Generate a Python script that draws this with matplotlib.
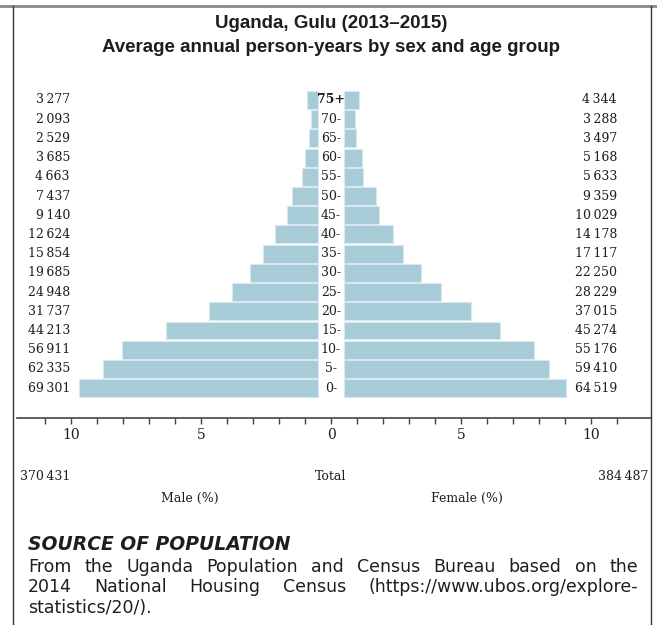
import matplotlib
matplotlib.use("Agg")
import matplotlib.pyplot as plt
from matplotlib.lines import Line2D
from matplotlib.ticker import FixedLocator, FuncFormatter
import numpy as np

# age groups, bottom to top
ages = ['0-', '5-', '10-', '15-', '20-', '25-', '30-', '35-', '40-',
        '45-', '50-', '55-', '60-', '65-', '70-', '75+']
male = [69301, 62335, 56911, 44213, 31737, 24948, 19685, 15854, 12624,
        9140, 7437, 4663, 3685, 2529, 2093, 3277]
female = [64519, 59410, 55176, 45274, 37015, 28229, 22250, 17117, 14178,
          10029, 9359, 5633, 5168, 3497, 3288, 4344]
male_total = 370431
female_total = 384487

major_ticks = [-10, -5, 0, 5, 10]
minor_ticks = list(range(-11, 12))

title1 = 'Uganda, Gulu (2013\u20132015)'
title2 = 'Average annual person-years by sex and age group'
source_head = 'SOURCE OF POPULATION'
source_lines = ['From the Uganda Population and Census Bureau based on the',
                '2014 National Housing Census (https://www.ubos.org/explore-',
                'statistics/20/).']

W, H = 657, 625
BAR = '#a8cbd8'
EDGE = '#d9e8ee'
INK = '#1e1e1e'
SERIF = 'DejaVu Serif'
SANS = 'Liberation Sans'
BODY = 'DejaVu Sans'


def fx(px):
    return px / W


def fy(py):
    return 1 - py / H


def fmt(n):
    return f'{n:,}'.replace(',', '\u2009')


fig = plt.figure(figsize=(W / 100, H / 100), dpi=100)

# frame
fig.add_artist(Line2D([0, 1], [fy(6), fy(6)], transform=fig.transFigure,
                      color='#8a8a8a', lw=2))
fig.add_artist(Line2D([fx(12.5), fx(12.5)], [fy(6), 0], transform=fig.transFigure,
                      color='#333333', lw=1))
fig.add_artist(Line2D([fx(651), fx(651)], [fy(6), 0], transform=fig.transFigure,
                      color='#333333', lw=1))

fig.text(fx(331), fy(24), title1, ha='center', va='center', fontsize=13.5,
         fontweight='bold', family=SANS, color=INK)
fig.text(fx(331), fy(47), title2, ha='center', va='center', fontsize=13.5,
         fontweight='bold', family=SANS, color=INK)

ax = fig.add_axes([fx(17), fy(418), fx(651) - fx(17), fy(90) - fy(418)])

grand = male_total + female_total
mp = np.array(male) / grand * 100
fp = np.array(female) / grand * 100
y = np.arange(len(ages))
gap = 0.5

ax.barh(y, -mp, left=-gap, height=0.93, color=BAR, edgecolor=EDGE, lw=0.8)
ax.barh(y, fp, left=gap, height=0.93, color=BAR, edgecolor=EDGE, lw=0.8)

for i, a in enumerate(ages):
    ax.text(0, y[i], a, ha='center', va='center', fontsize=9, family=SERIF,
            color=INK, fontweight='bold' if a == '75+' else 'normal')
    ax.text(-10.04, y[i], fmt(male[i]), ha='right', va='center', fontsize=9,
            family=SERIF, color=INK)
    ax.text(11.0, y[i], fmt(female[i]), ha='right', va='center', fontsize=9,
            family=SERIF, color=INK)

ax.set_xlim((17 - 331) / 26, (651 - 331) / 26)
ax.set_ylim(-1.56, 15.52)
for s in ['top', 'left', 'right']:
    ax.spines[s].set_visible(False)
ax.spines['bottom'].set_color('#444444')
ax.spines['bottom'].set_linewidth(1.2)
ax.set_yticks([])
ax.xaxis.set_major_locator(FixedLocator(major_ticks))
ax.xaxis.set_minor_locator(FixedLocator(minor_ticks))
ax.xaxis.set_major_formatter(FuncFormatter(lambda v, p: f'{abs(v):.0f}'))
ax.tick_params(axis='x', which='both', direction='out', length=4, width=1,
               color='#444444')
ax.tick_params(axis='x', which='major', labelsize=10, pad=3, labelcolor=INK)
for lab in ax.get_xticklabels():
    lab.set_family(SERIF)

fig.text(fx(20), fy(476), fmt(male_total), ha='left', va='center',
         fontsize=9, family=SERIF, color=INK)
fig.text(fx(331), fy(476), 'Total', ha='center', va='center',
         fontsize=9, family=SERIF, color=INK)
fig.text(fx(648), fy(476), fmt(female_total), ha='right', va='center',
         fontsize=9, family=SERIF, color=INK)
fig.text(fx(190), fy(498), 'Male (%)', ha='center', va='center',
         fontsize=9, family=SERIF, color=INK)
fig.text(fx(467), fy(498), 'Female (%)', ha='center', va='center',
         fontsize=9, family=SERIF, color=INK)

fig.text(fx(28), fy(545), source_head, ha='left', va='center', fontsize=13.5,
         fontweight='bold', fontstyle='italic', family=BODY, color=INK)

# justified paragraph
renderer = fig.canvas.get_renderer()
x0, x1 = 28, 638
for k, line in enumerate(source_lines):
    yy = fy(567 + 20.5 * k)
    words = line.split(' ')
    if k == len(source_lines) - 1:
        fig.text(fx(x0), yy, line, ha='left', va='center', fontsize=12.5,
                 family=BODY, color=INK)
        continue
    arts = [fig.text(0, yy, w, ha='left', va='center', fontsize=12.5,
                     family=BODY, color=INK) for w in words]
    widths = [a.get_window_extent(renderer).width for a in arts]
    space = (x1 - x0 - sum(widths)) / (len(words) - 1)
    pos = x0
    for a, w in zip(arts, widths):
        a.set_x(fx(pos))
        pos += w + space

fig.savefig('out.png', dpi=100)
